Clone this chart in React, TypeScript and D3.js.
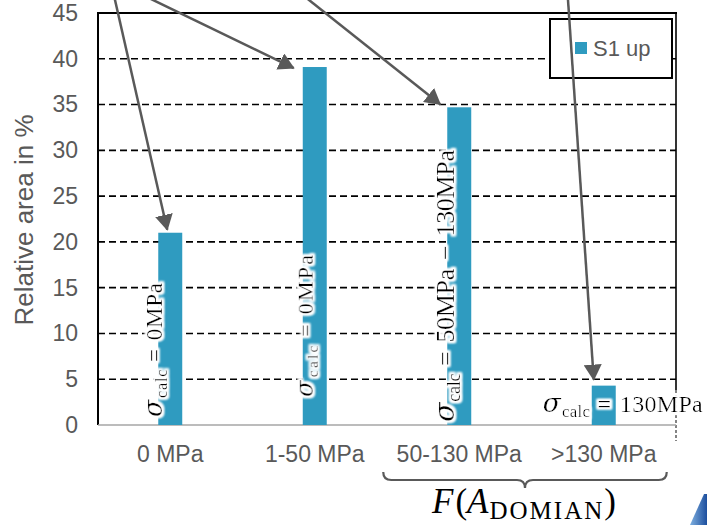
import React, { useEffect, useRef } from "react";
import * as d3 from "d3";

// chart data
const categories = ["0 MPa", "1-50 MPa", "50-130 MPa", ">130 MPa"];
const values = [21, 39.1, 34.7, 4.3];
const yTicks = [0, 5, 10, 15, 20, 25, 30, 35, 40, 45];
const seriesName = "S1 up";

// annotation text on bars (pieces after the "=" sign)
const labelRest = [["0MPa"], ["0MPa"], ["50MPa", "\u2212", "130MPa"], ["130MPa"]];
const labelSizes = [23, 22, 26, 24];
const labelLengths = [134, 142, 272, 160];

const W = 707;
const H = 525;
const SANS = "'Liberation Sans', Arial, sans-serif";
const SERIF = "'Liberation Serif', 'Times New Roman', serif";
const GREY = "#595959";
const BAR = "#2F9BC0";

const App = () => {
  const ref = useRef(null);

  useEffect(() => {
    const svg = d3.select(ref.current);
    svg.selectAll("*").remove();

    const x = d3
      .scaleBand()
      .domain(categories)
      .range([98, 676])
      .paddingInner(0.834)
      .paddingOuter(0.417);
    const y = d3.scaleLinear().domain([0, 45]).range([425, 13]);
    const bw = x.bandwidth();

    const defs = svg.append("defs");
    const f = defs
      .append("filter")
      .attr("id", "glow")
      .attr("x", "-20%")
      .attr("y", "-20%")
      .attr("width", "140%")
      .attr("height", "140%");
    f.append("feMorphology").attr("in", "SourceAlpha").attr("operator", "dilate").attr("radius", 1.5).attr("result", "d");
    f.append("feGaussianBlur").attr("in", "d").attr("stdDeviation", 1.3).attr("result", "b");
    f.append("feFlood").attr("flood-color", "white");
    f.append("feComposite").attr("in2", "b").attr("operator", "in").attr("result", "g");
    const fm = f.append("feMerge");
    fm.append("feMergeNode").attr("in", "g");
    fm.append("feMergeNode").attr("in", "g");
    fm.append("feMergeNode").attr("in", "SourceGraphic");

    defs
      .append("marker")
      .attr("id", "arrow")
      .attr("markerUnits", "userSpaceOnUse")
      .attr("markerWidth", 18)
      .attr("markerHeight", 18)
      .attr("refX", 15)
      .attr("refY", 9)
      .attr("orient", "auto")
      .append("path")
      .attr("d", "M0,0 L16,9 L0,18 Z")
      .attr("fill", GREY);

    const grad = defs
      .append("linearGradient")
      .attr("id", "corner")
      .attr("x1", "0")
      .attr("y1", "0")
      .attr("x2", "1")
      .attr("y2", "0");
    grad.append("stop").attr("offset", "0").attr("stop-color", "#7fb0e0");
    grad.append("stop").attr("offset", "1").attr("stop-color", "#1d4f9e");

    // gridlines
    svg
      .append("g")
      .selectAll("line")
      .data(yTicks.filter((t) => t > 0 && t < 45))
      .enter()
      .append("line")
      .attr("x1", 98)
      .attr("x2", 676)
      .attr("y1", (d) => y(d))
      .attr("y2", (d) => y(d))
      .attr("stroke", "#000")
      .attr("stroke-width", 1.6)
      .attr("stroke-dasharray", "7,4");

    // frame
    svg.append("line").attr("x1", 97).attr("x2", 677).attr("y1", y(45)).attr("y2", y(45)).attr("stroke", "#000").attr("stroke-width", 2);
    svg.append("line").attr("x1", 98).attr("x2", 98).attr("y1", y(45)).attr("y2", y(0)).attr("stroke", "#000").attr("stroke-width", 2);
    svg.append("line").attr("x1", 676).attr("x2", 676).attr("y1", y(45)).attr("y2", 390).attr("stroke", "#000").attr("stroke-width", 1.6);
    svg.append("line").attr("x1", 676).attr("x2", 676).attr("y1", 390).attr("y2", 441).attr("stroke", "#333").attr("stroke-width", 1.2).attr("stroke-dasharray", "3,2");
    svg.append("line").attr("x1", 98).attr("x2", 676).attr("y1", y(0)).attr("y2", y(0)).attr("stroke", "#A6A6A6").attr("stroke-width", 1.6);

    // bars
    svg
      .append("g")
      .selectAll("rect")
      .data(values)
      .enter()
      .append("rect")
      .attr("x", (d, i) => x(categories[i]))
      .attr("y", (d) => y(d))
      .attr("width", bw)
      .attr("height", (d) => y(0) - y(d))
      .attr("fill", BAR);

    // axes
    const yAxis = svg
      .append("g")
      .attr("transform", "translate(98,0)")
      .call(d3.axisLeft(y).tickValues(yTicks).tickSize(0).tickPadding(20));
    yAxis.select(".domain").remove();
    yAxis.selectAll("text").style("font-family", SANS).style("font-size", "23px").attr("fill", GREY);

    const xAxis = svg
      .append("g")
      .attr("transform", "translate(0," + y(0) + ")")
      .call(d3.axisBottom(x).tickSize(0).tickPadding(21));
    xAxis.select(".domain").remove();
    xAxis.selectAll("text").style("font-family", SANS).style("font-size", "23px").attr("fill", GREY);

    svg
      .append("text")
      .attr("transform", "translate(33,220) rotate(-90)")
      .attr("text-anchor", "middle")
      .style("font-family", SANS)
      .style("font-size", "26px")
      .attr("fill", GREY)
      .text("Relative area in %");

    // legend
    svg.append("rect").attr("x", 550).attr("y", 19).attr("width", 122).attr("height", 59).attr("fill", "#fff").attr("stroke", "#000").attr("stroke-width", 2);
    svg.append("rect").attr("x", 575).attr("y", 42).attr("width", 12).attr("height", 12).attr("fill", BAR);
    svg
      .append("text")
      .attr("x", 593)
      .attr("y", 56)
      .style("font-family", SANS)
      .style("font-size", "22px")
      .attr("fill", GREY)
      .text(seriesName);

    // sigma labels on bars
    const labelPos = [
      { dx: 3.7, y0: 417, rot: true },
      { dx: 10, y0: 397, rot: true },
      { dx: 6.7, y0: 422, rot: true },
      { dx: -49, y0: 411.7, rot: false },
    ];
    values.forEach((v, i) => {
      const p = labelPos[i];
      const s = labelSizes[i];
      const left = x(categories[i]);
      const t = p.rot
        ? "translate(" + (left + p.dx) + "," + p.y0 + ") rotate(-90)"
        : "translate(" + (left + p.dx) + "," + p.y0 + ")";
      const txt = svg
        .append("text")
        .attr("transform", t)
        .attr("filter", "url(#glow)")
        .attr("textLength", labelLengths[i])
        .attr("lengthAdjust", "spacing")
        .style("font-family", SERIF)
        .style("font-size", s + "px")
        .attr("fill", "#000");
      txt
        .append("tspan")
        .style("font-family", "'DejaVu Serif', serif")
        .style("font-style", "italic")
        .style("font-size", s * 1.1 + "px")
        .text("\u03c3");
      txt.append("tspan").attr("dy", s * 0.22).attr("dx", 1).style("font-size", s * 0.7 + "px").text("calc");
      txt.append("tspan").attr("dy", -s * 0.22).attr("dx", s * 0.3).text("=");
      labelRest[i].forEach((part) => {
        txt.append("tspan").attr("dx", s * 0.35).text(part);
      });
    });

    // bracket + F(A_DOMIAN)
    const c3 = x(categories[2]) + bw / 2;
    const c4 = x(categories[3]) + bw / 2;
    const bl = c3 - 76;
    const br = c4 + 63;
    const bm = (bl + br) / 2;
    svg
      .append("path")
      .attr(
        "d",
        `M${bl},472 Q${bl},480 ${bl + 8},480 L${bm - 8},480 Q${bm},480 ${bm},488 Q${bm},480 ${bm + 8},480 L${br - 8},480 Q${br},480 ${br},472`
      )
      .attr("fill", "none")
      .attr("stroke", GREY)
      .attr("stroke-width", 2.2);
    const ft = svg
      .append("text")
      .attr("x", bm - 1)
      .attr("y", 513)
      .attr("text-anchor", "middle")
      .style("font-family", SERIF)
      .style("font-size", "35px")
      .attr("fill", "#000");
    ft.append("tspan").style("font-style", "italic").text("F");
    ft.append("tspan").attr("dx", 2).text("(");
    ft.append("tspan").style("font-style", "italic").text("A");
    ft.append("tspan").attr("dy", 6).attr("dx", 1).style("font-size", "25px").style("letter-spacing", "2px").text("DOMIAN");
    ft.append("tspan").attr("dy", -6).text(")");

    // corner decoration
    svg.append("path").attr("d", "M690,525 L704,494 L707,494 L707,525 Z").attr("fill", "url(#corner)");

    // arrows pointing at bars
    const arrows = [
      { from: [115, 0], to: [x(categories[0]) + bw / 2 - 3, y(values[0]) - 3] },
      { from: [153, 0], to: [x(categories[1]) - 9, y(values[1]) + 1] },
      { from: [309, 0], to: [x(categories[2]) - 7, y(values[2]) - 3] },
      { from: [568, 0], to: [x(categories[3]) + 2, y(values[3]) - 6] },
    ];
    arrows.forEach((a) => {
      const dxv = a.to[0] - a.from[0];
      const dyv = a.to[1] - a.from[1];
      svg
        .append("line")
        .attr("x1", a.from[0] - dxv * 0.05)
        .attr("y1", a.from[1] - dyv * 0.05)
        .attr("x2", a.to[0])
        .attr("y2", a.to[1])
        .attr("stroke", GREY)
        .attr("stroke-width", 2.5)
        .attr("marker-end", "url(#arrow)");
    });
  }, []);

  return (
    <svg
      ref={ref}
      width={W}
      height={H}
      style={{ position: "absolute", left: 0, top: 0, background: "#fff" }}
    ></svg>
  );
};

export default App;
